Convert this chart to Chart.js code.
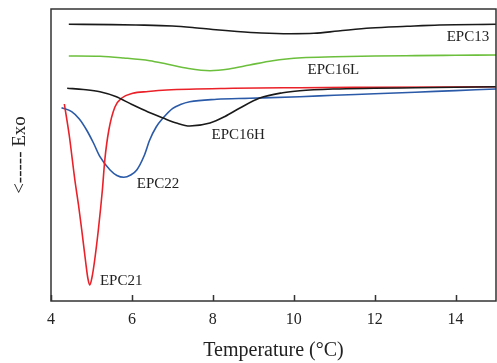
<!DOCTYPE html>
<html>
<head>
<meta charset="utf-8">
<script src="https://cdn.jsdelivr.net/npm/chart.js@4/dist/chart.umd.min.js"></script>
<style>
html,body{margin:0;padding:0;background:#fff;}
#wrap{width:497px;height:363px;}
</style>
</head>
<body>
<div id="wrap"><canvas id="c" width="497" height="363"></canvas></div>
<script>
// Temperature (°C) and heat-flow (arbitrary units, up = endo)
const epc13T = [4.44, 5.5, 6.1, 7.0, 7.5, 8.0, 8.6, 9.2, 9.9, 10.5, 11.1, 11.9, 12.8, 13.6, 15.0];
const epc13V = [276.7, 276.4, 276, 275, 273.5, 271.5, 269.5, 268, 267.3, 267.7, 270, 273, 274.7, 276, 276.7];

const epc16LT = [4.44, 5.21, 5.8, 6.44, 6.86, 7.4, 7.93, 8.4, 8.91, 9.48, 10.2, 11, 12, 13, 14, 15];
const epc16LV = [245, 244.7, 243, 240.3, 237, 232.5, 230.3, 232, 236, 240.3, 243.2, 244.2, 245, 245.4, 245.7, 246];

const epc16HT = [4.4, 4.8, 5.21, 5.6, 6.0, 6.4, 6.77, 7.1, 7.43, 7.93, 8.3, 8.67, 9.16, 9.73, 10.15, 11, 12, 13, 14, 15];
const epc16HV = [212.7, 211.5, 209.3, 204.5, 196.5, 189, 183, 178, 175, 178, 184.5, 193, 203, 208.3, 210.3, 212, 212.7, 213.2, 213.7, 214.2];

const epc21T = [4.33, 4.45, 4.59, 4.68, 4.76, 4.86, 4.91, 4.96, 5.01, 5.07, 5.17, 5.27, 5.33, 5.43, 5.58, 5.75, 6.02, 6.4, 6.86, 8.5, 10.15, 12, 15];
const epc21V = [197, 166, 121, 96, 71, 38, 23, 16, 23, 38, 71, 111, 141, 171, 194, 203, 207.7, 209.5, 211, 212.7, 213.3, 213.7, 214.3];

const epc22T = [4.26, 4.51, 4.7, 4.88, 5.05, 5.21, 5.46, 5.63, 5.8, 5.97, 6.12, 6.3, 6.44, 6.6, 6.77, 7.01, 7.2, 7.43, 8.1, 8.91, 10.15, 11, 12, 13, 14, 15];
const epc22V = [193.3, 189.3, 182, 171, 158, 144.3, 131, 125.5, 123.7, 126, 131, 145, 161, 174, 183, 192.7, 196.5, 199.3, 201.7, 202.7, 204.3, 205.7, 207.2, 208.8, 210.4, 212];

const xTicks = [4, 6, 8, 10, 12, 14];
const seriesNames = ['EPC13', 'EPC16L', 'EPC16H', 'EPC21', 'EPC22'];
const xTitle = 'Temperature (\u00B0C)';
const yTitle = '<----- Exo';

// curve labels anchored in data coordinates
const labelAnchors = [
  {text: 'EPC13', x: 13.78, y: 264},
  {text: 'EPC16L', x: 10.34, y: 231},
  {text: 'EPC16H', x: 7.97, y: 166},
  {text: 'EPC22', x: 6.12, y: 117},
  {text: 'EPC21', x: 5.21, y: 19.5}
];

const colors = ['#1a1a1a', '#6cbf3c', '#1a1a1a', '#ea2128', '#2a5aa8'];
const tArr = [epc13T, epc16LT, epc16HT, epc21T, epc22T];
const vArr = [epc13V, epc16LV, epc16HV, epc21V, epc22V];

const datasets = seriesNames.map((n, i) => ({
  label: n,
  data: tArr[i].map((t, k) => ({x: t, y: vArr[i][k]})),
  borderColor: colors[i],
  borderWidth: 1.6,
  pointRadius: 0,
  fill: false,
  cubicInterpolationMode: 'monotone'
}));

const SERIF = "'Liberation Serif', 'Times New Roman', serif";

const framePlugin = {
  id: 'frame',
  afterDraw(chart) {
    const {ctx, chartArea: a, scales} = chart;
    ctx.save();
    ctx.strokeStyle = '#333';
    ctx.lineWidth = 1.5;
    ctx.strokeRect(a.left, a.top, a.right - a.left, a.bottom - a.top);
    // inward tick marks
    ctx.beginPath();
    scales.x.ticks.forEach(t => {
      const px = Math.round(scales.x.getPixelForValue(t.value)) + 0.5;
      ctx.moveTo(px, a.bottom);
      ctx.lineTo(px, a.bottom - 6);
    });
    ctx.stroke();
    // curve labels
    ctx.fillStyle = '#222';
    ctx.font = "15px " + SERIF;
    ctx.textBaseline = 'middle';
    ctx.textAlign = 'left';
    labelAnchors.forEach(l => {
      ctx.fillText(l.text, scales.x.getPixelForValue(l.x), scales.y.getPixelForValue(l.y));
    });
    ctx.restore();
  }
};

new Chart(document.getElementById('c'), {
  type: 'line',
  data: {datasets},
  options: {
    responsive: false,
    animation: false,
    events: [],
    layout: {padding: {left: 0, right: 1, top: 9, bottom: 0}},
    plugins: {legend: {display: false}, tooltip: {enabled: false}},
    scales: {
      x: {
        type: 'linear',
        min: 4, max: 15,
        afterBuildTicks(scale) { scale.ticks = xTicks.map(v => ({value: v})); },
        afterFit(scale) { scale.height = 62; },
        grid: {display: false, drawTicks: false},
        border: {display: false},
        ticks: {
          color: '#222', padding: 9,
          font: {family: SERIF, size: 16},
          maxRotation: 0
        },
        title: {
          display: true, text: xTitle, color: '#222',
          font: {family: SERIF, size: 20},
          padding: {top: 0, bottom: 0}
        }
      },
      y: {
        min: 0, max: 292,
        afterFit(scale) { scale.width = 51; },
        grid: {display: false, drawTicks: false},
        border: {display: false},
        ticks: {display: false},
        title: {
          display: true, text: yTitle, color: '#222',
          font: {family: SERIF, size: 19},
          padding: {top: 9, bottom: 0}
        }
      }
    }
  },
  plugins: [framePlugin]
});
</script>
</body>
</html>
